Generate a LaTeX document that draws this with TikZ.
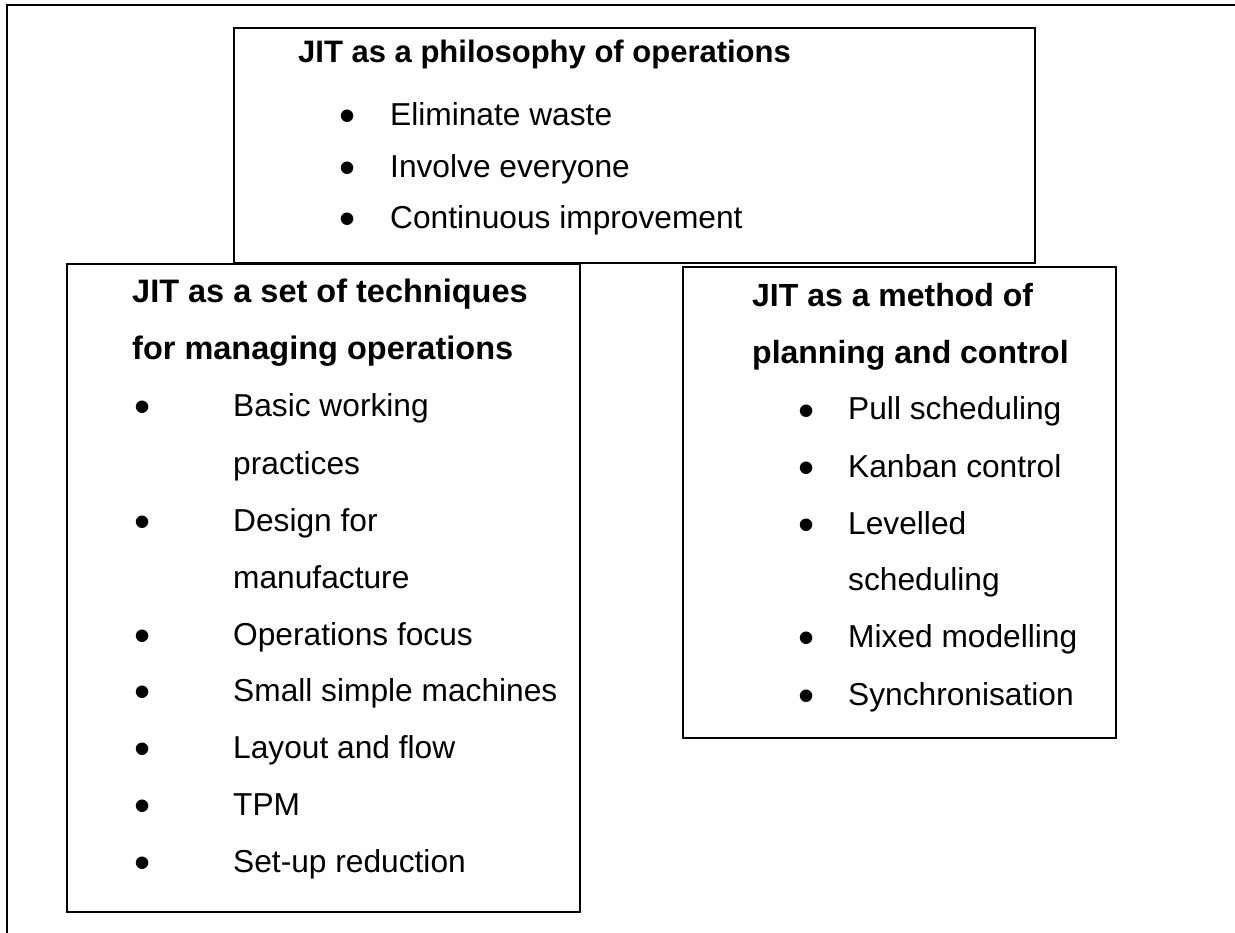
\documentclass[tikz,border=0pt]{standalone}
\usepackage{fontspec}
\setmainfont{Liberation Sans}
\newcommand\jitdot{\raisebox{-6pt}{\fontsize{46}{46}\selectfont\textbullet}}
\tikzset{
  jitbox/.style={draw, line width=1.6pt, inner sep=0pt},
  jittext/.style={anchor=base west, inner sep=0pt, font=\fontsize{31.7}{36}\selectfont},
  jithead/.style={jittext, font=\fontsize{32.5}{36}\selectfont\bfseries}
}
\begin{document}
\begin{tikzpicture}[x=1pt, y=-1pt]
				\useasboundingbox (0,0) rectangle (1235,933);
				\draw[line width=2.2pt] (7,933) -- (7,5) -- (1235,5);

				% the three boxes
				\node[jitbox, minimum width=801pt, minimum height=235pt] (philo) at (634.5,145.5) {};
				\node[jitbox, minimum width=513pt, minimum height=648pt] (tech) at (323.5,588) {};
				\node[jitbox, minimum width=433pt, minimum height=471pt] (plan) at (899.5,502.5) {};

				% philosophy
				\node[jithead, font=\fontsize{31}{36}\selectfont\bfseries] (philo-h) at (298,63) {JIT as a philosophy of operations};
				\node[jittext] (philo-1) at (339,126) {\makebox[51pt][l]{\jitdot}Eliminate waste};
				\node[jittext] (philo-2) at (339,178) {\makebox[51pt][l]{\jitdot}Involve everyone};
				\node[jittext] (philo-3) at (339,229) {\makebox[51pt][l]{\jitdot}Continuous improvement};

				% techniques
				\node[jithead] (tech-h1) at (132,303) {JIT as a set of techniques};
				\node[jithead] (tech-h2) at (132,360) {for managing operations};
				\node[jittext] (tech-1) at (134,417) {\makebox[99pt][l]{\jitdot}Basic working};
				\node[jittext] (tech-1b) at (233,474) {practices};
				\node[jittext] (tech-2) at (134,531) {\makebox[99pt][l]{\jitdot}Design for};
				\node[jittext] (tech-2b) at (233,588) {manufacture};
				\node[jittext] (tech-3) at (134,645) {\makebox[99pt][l]{\jitdot}Operations focus};
				\node[jittext] (tech-4) at (134,701) {\makebox[99pt][l]{\jitdot}Small simple machines};
				\node[jittext] (tech-5) at (134,758) {\makebox[99pt][l]{\jitdot}Layout and flow};
				\node[jittext] (tech-6) at (134,815) {\makebox[99pt][l]{\jitdot}TPM};
				\node[jittext] (tech-7) at (134,872) {\makebox[99pt][l]{\jitdot}Set-up reduction};

				% planning and control
				\node[jithead, font=\fontsize{32}{36}\selectfont\bfseries] (plan-h1) at (752,307) {JIT as a method of};
				\node[jithead, font=\fontsize{32}{36}\selectfont\bfseries] (plan-h2) at (752,364) {planning and control};
				\node[jittext] (plan-1) at (798,420) {\makebox[50pt][l]{\jitdot}Pull scheduling};
				\node[jittext] (plan-2) at (798,477) {\makebox[50pt][l]{\jitdot}Kanban control};
				\node[jittext] (plan-3) at (798,534) {\makebox[50pt][l]{\jitdot}Levelled};
				\node[jittext] (plan-3b) at (848,590) {scheduling};
				\node[jittext] (plan-4) at (798,647) {\makebox[50pt][l]{\jitdot}Mixed modelling};
				\node[jittext] (plan-5) at (798,705) {\makebox[50pt][l]{\jitdot}Synchronisation};

			\end{tikzpicture}
\end{document}
